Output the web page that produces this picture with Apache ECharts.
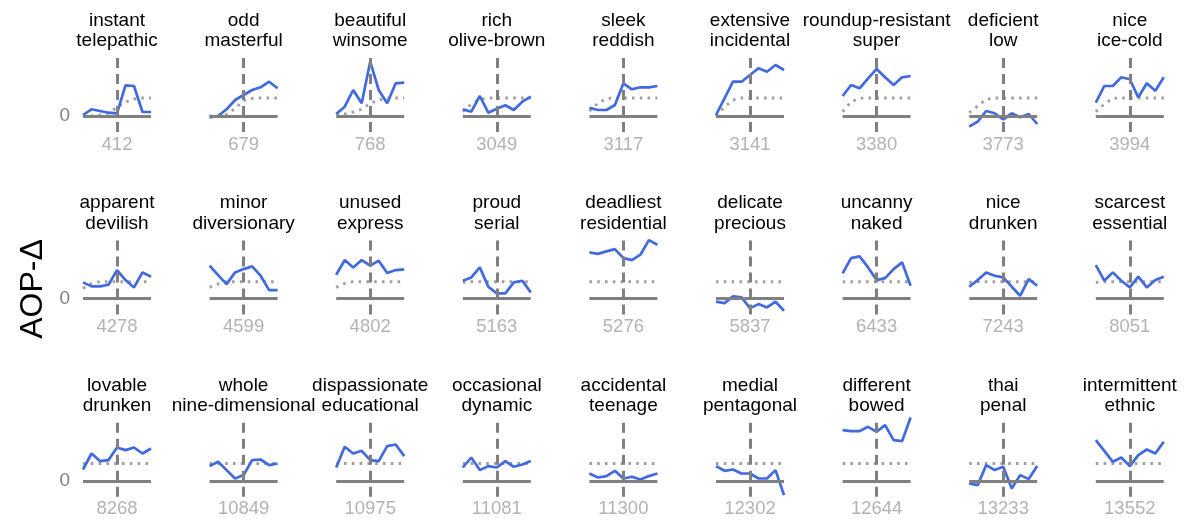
<!DOCTYPE html>
<html>
<head>
<meta charset="utf-8">
<script src="https://cdn.jsdelivr.net/npm/echarts@6/dist/echarts.min.js"></script>
<style>
  html, body { margin: 0; padding: 0; background: #fff; }
  #chart { width: 1188px; height: 522px; }
</style>
</head>
<body>
<div id="chart"></div>
<script>
// ---- data ----
const titles = [
  'instant\ntelepathic', 'odd\nmasterful', 'beautiful\nwinsome', 'rich\nolive-brown', 'sleek\nreddish',
  'extensive\nincidental', 'roundup-resistant\nsuper', 'deficient\nlow', 'nice\nice-cold',
  'apparent\ndevilish', 'minor\ndiversionary', 'unused\nexpress', 'proud\nserial', 'deadliest\nresidential',
  'delicate\nprecious', 'uncanny\nnaked', 'nice\ndrunken', 'scarcest\nessential',
  'lovable\ndrunken', 'whole\nnine-dimensional', 'dispassionate\neducational', 'occasional\ndynamic',
  'accidental\nteenage', 'medial\npentagonal', 'different\nbowed', 'thai\npenal', 'intermittent\nethnic'
];
const centers = [412, 679, 768, 3049, 3117, 3141, 3380, 3773, 3994,
  4278, 4599, 4802, 5163, 5276, 5837, 6433, 7243, 8051,
  8268, 10849, 10975, 11081, 11300, 12302, 12644, 13233, 13552];
const offsets = [-4, -3, -2, -1, 0, 1, 2, 3, 4];
const observed = [
  [1, 6.7, 5, 3.3, 2.7, 30.7, 30, 4, 4],
  [-1.3, 0, 6.7, 16, 21, 26, 28.7, 34.3, 27.7],
  [2, 9.3, 26, 12.7, 54.3, 26, 12.7, 32.7, 33.3],
  [6.7, 4.3, 20, 3.3, 7.3, 10.7, 6, 14.3, 19.3],
  [8.3, 6, 6, 11, 32.7, 26.7, 28.7, 28.7, 30],
  [1, 17.7, 34.3, 34.3, 41, 47.7, 44.3, 51, 46],
  [20, 31, 27.7, 37.7, 47, 38.7, 31, 38.7, 40],
  [-10.7, -5.7, 5, 2.7, -3.3, 2.7, -1.3, 2, -8],
  [13.3, 30, 30, 38.7, 36.7, 18.7, 32.7, 25.3, 38.7],
  [16, 12, 12, 13.7, 28.3, 18.3, 11, 26, 21.7],
  [32.7, 23.3, 14.3, 26, 29.3, 32, 22.7, 8.3, 8.3],
  [23.7, 38.3, 31, 38.3, 32.7, 37.7, 25.3, 28.3, 29],
  [17.7, 21, 31, 11.7, 5, 5, 16, 17.7, 6],
  [46, 44.5, 47, 49.3, 40.3, 38.3, 43.7, 58.3, 53.7],
  [-3.3, -4.7, 2, 1, -9.7, -5.7, -9, -3.3, -12.3],
  [25, 40.3, 42, 31, 18.3, 20.3, 29.3, 36, 12.7],
  [11.7, 18.3, 26, 22.7, 21, 11.7, 2.7, 19.3, 12.7],
  [33.3, 17.7, 26, 17.7, 11, 21.7, 11, 18.3, 21.7],
  [11.3, 27.3, 19.7, 20.7, 33.3, 30.7, 33.3, 27.3, 32.3],
  [14.7, 19, 10.7, 2.3, 5.7, 20.7, 21.3, 15.7, 17.3],
  [13.3, 34, 27.3, 30, 20.7, 19.7, 34.7, 36.3, 24.7],
  [13.3, 23.3, 10.7, 14.7, 13.3, 19.7, 14, 16.3, 19.7],
  [7.3, 3.3, 4.7, 10, 2.3, 4, 1.3, 4.7, 7.3],
  [14.7, 10, 11.3, 7.3, 7.3, 2.3, 2.3, 10.7, -14.3],
  [50.7, 49.7, 49.7, 54, 49, 55.7, 40.7, 39.7, 63.3],
  [-2.7, -4.3, 15.7, 10.7, 14, -7.7, 5.7, 1.7, 14.7],
  [40.7, 30, 19, 23.3, 14.7, 25.7, 31.3, 27.3, 39]
];
const expected = [
  [0, 0, 1, 3, 8.7, 14, 17, 18, 18],
  [0, 0, 1.5, 7.5, 15.5, 17.5, 18, 18, 18],
  [2, 2, 4, 6.7, 12.7, 16, 17.7, 18, 18],
  [4.3, 12, 16.5, 18, 18, 18, 18, 18, 18],
  [5, 12.7, 17.5, 18, 18, 18, 18, 18, 18],
  [0, 9, 16, 18, 18, 18, 18, 18, 18],
  [4.3, 14.3, 17.7, 18, 18, 18, 18, 18, 18],
  [3.3, 10, 16.7, 18, 18, 18, 18, 18, 18],
  [4.3, 12, 17.7, 18, 18, 18, 18, 18, 18],
  [10, 15, 16.7, 16.7, 16.7, 16.7, 16.7, 16.7, 16.7],
  [11, 14.3, 16.7, 16.7, 16.7, 16.7, 16.7, 16.7, 16.7],
  [11, 15, 16.7, 16.7, 16.7, 16.7, 16.7, 16.7, 16.7],
  [16, 16.7, 16.7, 16.7, 16.7, 16.7, 16.7, 16.7, 16.7],
  [16.7, 16.7, 16.7, 16.7, 16.7, 16.7, 16.7, 16.7, 16.7],
  [16.7, 16.7, 16.7, 16.7, 16.7, 16.7, 16.7, 16.7, 16.7],
  [16.7, 16.7, 16.7, 16.7, 16.7, 16.7, 16.7, 16.7, 16.7],
  [16, 16.7, 16.7, 16.7, 16.7, 16.7, 16.7, 16.7, 16.7],
  [16, 16.7, 16.7, 16.7, 16.7, 16.7, 16.7, 16.7, 16.7],
  [17, 17.3, 17.3, 17.3, 17.3, 17.3, 17.3, 17.3, 17.3],
  [17.3, 17.3, 17.3, 17.3, 17.3, 17.3, 17.3, 17.3, 17.3],
  [17, 17.3, 17.3, 17.3, 17.3, 17.3, 17.3, 17.3, 17.3],
  [17.3, 17.3, 17.3, 17.3, 17.3, 17.3, 17.3, 17.3, 17.3],
  [17.3, 17.3, 17.3, 17.3, 17.3, 17.3, 17.3, 17.3, 17.3],
  [17.3, 17.3, 17.3, 17.3, 17.3, 17.3, 17.3, 17.3, 17.3],
  [17.3, 17.3, 17.3, 17.3, 17.3, 17.3, 17.3, 17.3, 17.3],
  [17.3, 17.3, 17.3, 17.3, 17.3, 17.3, 17.3, 17.3, 17.3],
  [17.3, 17.3, 17.3, 17.3, 17.3, 17.3, 17.3, 17.3, 17.3]
];
const yMin = -16, yMax = 64;
const yTitle = 'AOP-Δ';

// ---- layout ----
const FONT = '"Liberation Sans", Arial, Helvetica, sans-serif';
const nCols = 9;
const colStep = 126.6, gridLeft0 = 83, gridW = 68;
const rowStep = 182.4, gridTop0 = 52, gridH = 80;

const grids = [], xAxes = [], yAxes = [], series = [], titleList = [];
titles.forEach((t, i) => {
  const r = Math.floor(i / nCols), c = i % nCols;
  const left = gridLeft0 + c * colStep;
  const top = gridTop0 + r * rowStep;
  const ctr = centers[i];
  grids.push({ left: left, top: top, width: gridW, height: gridH, containLabel: false });
  titleList.push({
    text: t, left: left + gridW / 2, top: 10.5 + r * rowStep, textAlign: 'center', padding: 0,
    textStyle: { fontFamily: FONT, fontSize: 19, fontWeight: 'normal', color: '#000', lineHeight: 20.5 }
  });
  xAxes.push({
    gridIndex: i, type: 'value', min: ctr - 4, max: ctr + 4, interval: 4,
    axisLine: { show: false }, axisTick: { show: false }, splitLine: { show: false },
    axisLabel: {
      show: true, margin: 3, color: '#b3b3b3', fontFamily: FONT, fontSize: 18.5,
      showMinLabel: false, showMaxLabel: false,
      formatter: (v) => (v === ctr ? String(ctr) : '')
    }
  });
  yAxes.push({
    gridIndex: i, type: 'value', min: yMin, max: yMax, interval: 16,
    axisLine: { show: false }, axisTick: { show: false }, splitLine: { show: false },
    axisLabel: {
      show: c === 0, margin: 13, color: '#808080', fontFamily: FONT, fontSize: 19,
      formatter: (v) => (v === 0 ? '0' : '')
    }
  });
  series.push({
    type: 'line', xAxisIndex: i, yAxisIndex: i, symbol: 'none', z: 2, silent: true,
    lineStyle: { color: '#a0a0a0', width: 2.9, type: [2.6, 5.2] },
    data: offsets.map((o, j) => [ctr + o, expected[i][j]]),
    markLine: {
      silent: true, symbol: 'none', animation: false, label: { show: false },
      lineStyle: { color: '#808080', width: 3, type: 'solid' },
      emphasis: { disabled: true },
      data: [
        { yAxis: 0 },
        { xAxis: ctr, lineStyle: { color: '#808080', width: 3, type: [10, 6] } }
      ]
    }
  });
  series.push({
    type: 'line', xAxisIndex: i, yAxisIndex: i, symbol: 'none', z: 3, silent: true,
    lineStyle: { color: '#4169E1', width: 2.7 },
    data: offsets.map((o, j) => [ctr + o, observed[i][j]])
  });
});

const chart = echarts.init(document.getElementById('chart'), null, { renderer: 'canvas' });
chart.setOption({
  animation: false,
  backgroundColor: '#fff',
  title: titleList,
  grid: grids,
  xAxis: xAxes,
  yAxis: yAxes,
  series: series,
  graphic: [{
    type: 'text', x: 33, y: 289, rotation: Math.PI / 2,
    style: { text: yTitle, fontFamily: FONT, fontSize: 32, fill: '#000', align: 'center', verticalAlign: 'middle' }
  }]
});
</script>
</body>
</html>
